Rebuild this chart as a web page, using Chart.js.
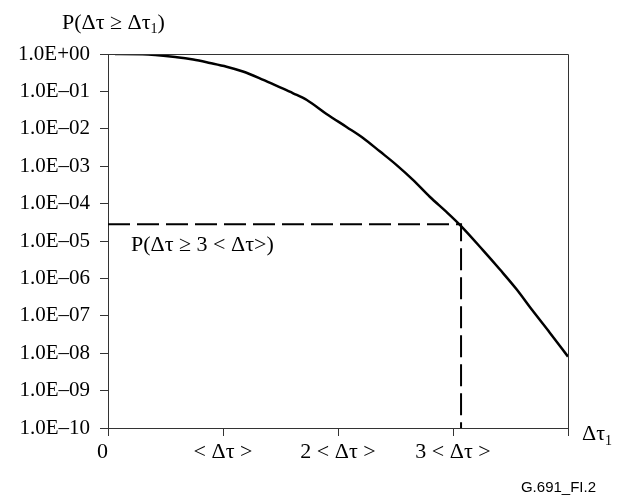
<!DOCTYPE html>
<html>
<head>
<meta charset="utf-8">
<script src="https://cdn.jsdelivr.net/npm/chart.js@4"></script>
<style>
  html, body { margin: 0; padding: 0; background: #fff; }
  #wrap { width: 619px; height: 497px; }
</style>
</head>
<body>
<div id="wrap"><canvas id="c" width="619" height="497"></canvas></div>
<script>
// ---- data ----
const xValues = [0.06, 0.3, 0.6, 0.741, 0.886, 1.031, 1.173, 1.32, 1.468, 1.61, 1.729, 1.90, 2.074, 2.215, 2.363, 2.51, 2.652, 2.80, 2.943, 3.06, 3.26, 3.41, 3.551, 3.69, 3.84, 4.0];
const pValues = [1.0, 0.99, 0.82, 0.71, 0.575, 0.457, 0.34, 0.224, 0.14, 0.089, 0.059, 0.025, 0.0112, 5.8e-3, 2.5e-3, 1.07e-3, 4.3e-4, 1.5e-4, 6.0e-5, 2.7e-5, 5.7e-6, 1.7e-6, 5.2e-7, 1.4e-7, 3.6e-8, 8.1e-9];
const xTickValues = [0, 1, 2, 3, 4];
const xTickLabels = ['0  ', '< Δτ >', '2 < Δτ >', '3 < Δτ >', ''];
const yTickValues = [1e-10, 1e-9, 1e-8, 1e-7, 1e-6, 1e-5, 1e-4, 1e-3, 1e-2, 1e-1, 1];
const yTickLabels = ['1.0E–10', '1.0E–09', '1.0E–08', '1.0E–07', '1.0E–06', '1.0E–05', '1.0E–04', '1.0E–03', '1.0E–02', '1.0E–01', '1.0E+00'];
const markerX = 3.07;
const markerP = 2.8e-5;
const yMin = 1e-10, yMax = 1, xMin = 0, xMax = 4;

const SERIF = '"Liberation Serif", "Times New Roman", serif';
const AXIS = '#333';

const textPlugin = {
  id: 'texts',
  afterDraw(chart) {
    const ctx = chart.ctx;
    const a = chart.chartArea;
    ctx.save();
    // frame top & right
    ctx.strokeStyle = AXIS;
    ctx.lineWidth = 1;
    ctx.beginPath();
    ctx.moveTo(a.left, a.top + 0.5);
    ctx.lineTo(a.right + 0.5, a.top + 0.5);
    ctx.lineTo(a.right + 0.5, a.bottom);
    ctx.stroke();

    ctx.fillStyle = '#000';
    ctx.textBaseline = 'alphabetic';
    ctx.textAlign = 'left';
    // y title
    ctx.font = '22px ' + SERIF;
    let t = 'P(Δτ ≥ Δτ';
    let x0 = 62, yb = 29;
    ctx.fillText(t, x0, yb);
    let w = ctx.measureText(t).width;
    ctx.font = '14px ' + SERIF;
    ctx.fillText('1', x0 + w, yb + 4);
    let w2 = ctx.measureText('1').width;
    ctx.font = '22px ' + SERIF;
    ctx.fillText(')', x0 + w + w2, yb);

    // annotation
    ctx.font = '22px ' + SERIF;
    ctx.fillText('P(Δτ ≥ 3 < Δτ>)', 131, 251);

    // x title
    ctx.font = '22px ' + SERIF;
    ctx.fillText('Δτ', 582, 440);
    w = ctx.measureText('Δτ').width;
    ctx.font = '14px ' + SERIF;
    ctx.fillText('1', 582 + w, 445);

    // figure id
    ctx.font = '15px "Liberation Sans", Arial, sans-serif';
    ctx.textAlign = 'right';
    ctx.fillText('G.691_FI.2', 596, 492);
    ctx.restore();
  }
};

new Chart(document.getElementById('c'), {
  type: 'line',
  data: {
    datasets: [
      {
        data: xValues.map((x, i) => ({ x: x, y: pValues[i] })),
        borderColor: '#000',
        borderWidth: 2.5,
        pointRadius: 0,
        cubicInterpolationMode: 'monotone',
        fill: false
      },
      {
        data: [{ x: xMin, y: markerP }, { x: markerX, y: markerP }, { x: markerX, y: yMin }],
        borderColor: '#000',
        borderWidth: 2,
        borderDash: [22, 7],
        pointRadius: 0,
        tension: 0,
        fill: false
      }
    ]
  },
  options: {
    responsive: false,
    animation: false,
    layout: { padding: { top: 54, right: 51, left: 0, bottom: 0 } },
    plugins: { legend: { display: false }, tooltip: { enabled: false }, title: { display: false } },
    scales: {
      x: {
        type: 'linear',
        min: xMin, max: xMax,
        afterBuildTicks: s => { s.ticks = xTickValues.map(v => ({ value: v })); },
        afterFit: s => { s.height = 69; },
        ticks: {
          callback: (v, i) => xTickLabels[i],
          font: { family: SERIF, size: 22 },
          color: '#000',
          padding: 3,
          maxRotation: 0,
          autoSkip: false
        },
        grid: { drawOnChartArea: false, drawTicks: true, tickLength: 8, color: AXIS, lineWidth: 1 },
        border: { color: AXIS, width: 1 }
      },
      y: {
        type: 'logarithmic',
        min: yMin, max: yMax,
        afterBuildTicks: s => { s.ticks = yTickValues.map(v => ({ value: v })); },
        afterFit: s => { s.width = 108; },
        ticks: {
          callback: (v, i) => yTickLabels[i],
          font: { family: SERIF, size: 21 },
          color: '#000',
          padding: 10,
          autoSkip: false
        },
        grid: { drawOnChartArea: false, drawTicks: true, tickLength: 8, color: AXIS, lineWidth: 1 },
        border: { color: AXIS, width: 1 }
      }
    }
  },
  plugins: [textPlugin]
});
</script>
</body>
</html>
